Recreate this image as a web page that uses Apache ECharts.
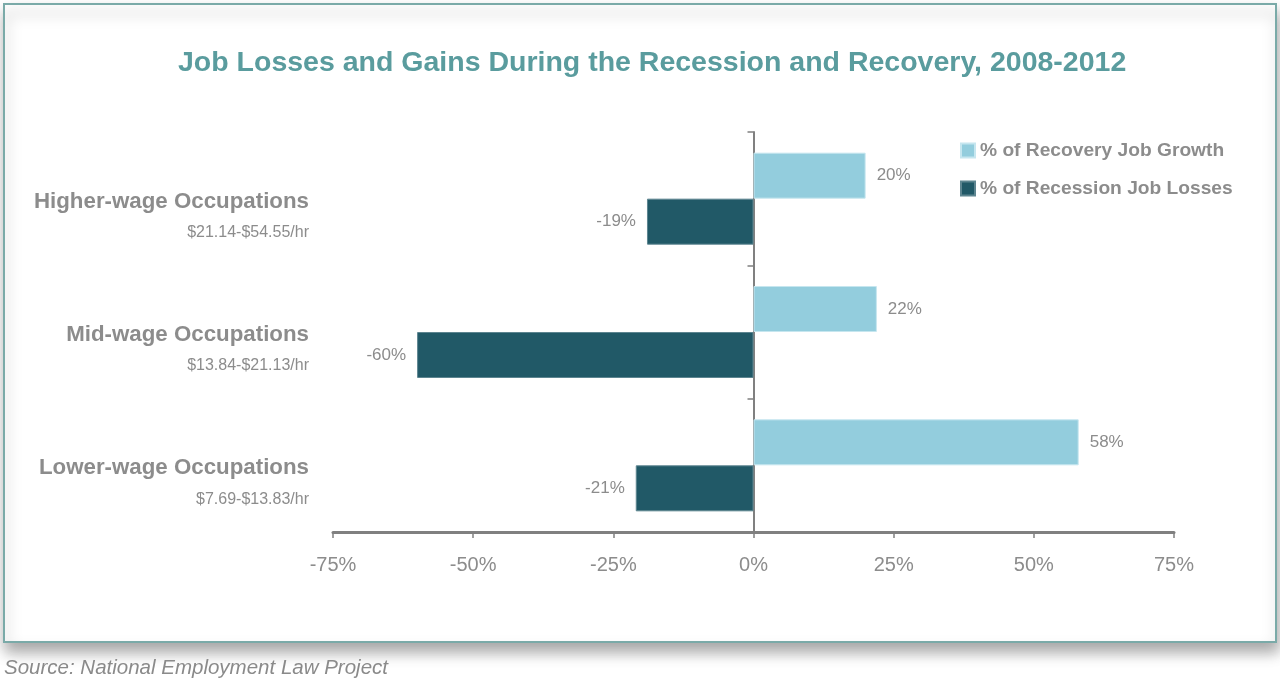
<!DOCTYPE html>
<html>
<head>
<meta charset="utf-8">
<script src="https://cdn.jsdelivr.net/npm/echarts@6/dist/echarts.min.js"></script>
<style>
html,body{margin:0;padding:0;background:#fff;}
#c{width:1280px;height:689px;}
</style>
</head>
<body>
<div id="c"></div>
<script>
// Data (top level)
const categories = ['Lower-wage Occupations', 'Mid-wage Occupations', 'Higher-wage Occupations'];
const wageRanges = ['$7.69-$13.83/hr', '$13.84-$21.13/hr', '$21.14-$54.55/hr'];
const recoveryGrowth = [58, 22, 20];
const recessionLosses = [-21, -60, -19];
const seriesNames = ['% of Recovery Job Growth', '% of Recession Job Losses'];
const xTicks = { min: -75, max: 75, interval: 25 };

const SANS = '"Liberation Sans", Arial, sans-serif';
const GRAY = '#8c8c8c';

const chart = echarts.init(document.getElementById('c'));
chart.setOption({
  backgroundColor: '#ffffff',
  animation: false,
  title: {
    text: 'Job Losses and Gains During the Recession and Recovery, 2008-2012',
    left: 173,
    top: 44,
    textStyle: { fontFamily: SANS, fontWeight: 'bold', fontSize: 28.5, color: '#5a9c9e' }
  },
  graphic: [
    {
      type: 'rect', z: -10, silent: true,
      shape: { x: 4, y: 4, width: 1272, height: 638 },
      style: { fill: '#ffffff', stroke: '#7aaaa8', lineWidth: 2,
        shadowBlur: 14, shadowOffsetY: 9, shadowOffsetX: 2, shadowColor: 'rgba(0,0,0,0.35)' }
    },
    {
      type: 'text', left: 4, top: 658,
      style: { text: 'Source: National Employment Law Project', fontFamily: SANS,
        fontStyle: 'italic', fontSize: 20.5, fill: '#8a8a8a' }
    }
  ],
  legend: {
    orient: 'vertical',
    left: 955, top: 136,
    itemWidth: 14, itemHeight: 14, itemGap: 19,
    icon: 'rect',
    data: seriesNames,
    textStyle: { fontFamily: SANS, fontWeight: 'bold', fontSize: 19.2, color: GRAY }
  },
  grid: { left: 333, right: 106, top: 132, bottom: 157, containLabel: false },
  xAxis: {
    type: 'value', min: xTicks.min, max: xTicks.max, interval: xTicks.interval,
    axisLine: { show: true, lineStyle: { color: '#808080', width: 3 } },
    axisTick: { show: true, length: 6, lineStyle: { color: '#808080', width: 1.5 } },
    splitLine: { show: false },
    axisLabel: { formatter: '{value}%', margin: 23, fontFamily: SANS, fontSize: 20, color: GRAY }
  },
  yAxis: [
    {
      type: 'category', data: categories,
      axisLine: { show: false, onZero: false },
      axisTick: { show: false },
      axisLabel: {
        margin: 24,
        formatter: function (v, i) {
          return '{s| }\n{a|' + v + '}\n{b|' + wageRanges[i] + '}';
        },
        rich: {
          s: { lineHeight: 37, fontSize: 10, align: 'right' },
          a: { lineHeight: 31, fontFamily: SANS, fontWeight: 'bold', fontSize: 22.3, color: GRAY, align: 'right' },
          b: { lineHeight: 31, fontFamily: SANS, fontSize: 16, color: GRAY, align: 'right' }
        }
      }
    },
    {
      type: 'category', data: categories, position: 'left',
      axisLine: { show: true, onZero: true, lineStyle: { color: '#808080', width: 2 } },
      axisTick: { show: true, length: 6, lineStyle: { color: '#808080', width: 1.5 } },
      axisLabel: { show: false }
    }
  ],
  series: [
    {
      name: seriesNames[0], type: 'bar', data: recoveryGrowth,
      barGap: '0%', barCategoryGap: '31%',
      itemStyle: { color: '#93cddd', borderColor: '#c6e6ef', borderWidth: 1 },
      label: { show: true, position: 'right', distance: 11, formatter: '{c}%',
        fontFamily: SANS, fontSize: 17, color: GRAY }
    },
    {
      name: seriesNames[1], type: 'bar', data: recessionLosses,
      barGap: '0%', barCategoryGap: '31%',
      itemStyle: { color: '#215967', borderColor: '#5d8590', borderWidth: 1 },
      label: { show: true, position: 'left', distance: 11, formatter: '{c}%',
        fontFamily: SANS, fontSize: 17, color: GRAY }
    }
  ]
});
</script>
</body>
</html>
